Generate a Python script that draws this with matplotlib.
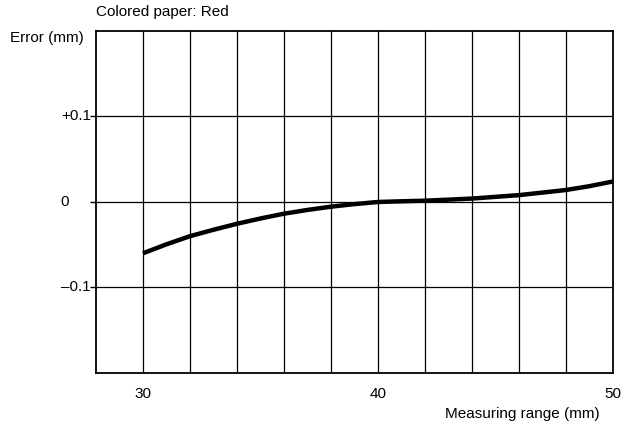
import matplotlib
matplotlib.use("Agg")
import matplotlib.pyplot as plt
import matplotlib.transforms as mtransforms

plt.rcParams['font.family'] = ['Liberation Sans', 'DejaVu Sans']

range_mm = [30, 31, 32, 33, 34, 35, 36, 37, 38, 39, 40,
            41, 42, 43, 44, 45, 46, 47, 48, 49, 50]
error_mm = [-0.060, -0.0495, -0.040, -0.0325, -0.0255, -0.0193, -0.0137, -0.0093, -0.0055, -0.0025, 0.0,
            0.0008, 0.0015, 0.0027, 0.004, 0.006, 0.008, 0.011, 0.014, 0.0185, 0.024]

x_ticks = [30, 40, 50]
x_tick_labels = ["30", "40", "50"]
y_ticks = [0.1, 0.0, -0.1]
y_tick_labels = ["+0.1", "0", "\u20130.1"]

fig = plt.figure(figsize=(6.21, 4.30), dpi=100)
ax = fig.add_axes([0.1546, 0.1326, 0.8325, 0.7954])

ax.set_xlim(28, 50)
ax.set_ylim(-0.2, 0.2)

# vertical grid every 2 mm, horizontal grid at the labelled levels
for gx in range(30, 50, 2):
    ax.axvline(gx, color="black", lw=0.9, zorder=1)
for gy in y_ticks:
    ax.axhline(gy, color="black", lw=0.9, zorder=1)

ax.plot(range_mm, error_mm, color="black", lw=3.2, solid_capstyle="butt", zorder=3)

for s in ax.spines.values():
    s.set_linewidth(1.3)

ax.set_xticks(x_ticks)
ax.set_xticklabels(x_tick_labels, fontsize=11)
ax.tick_params(axis="x", length=0, pad=10)

ax.set_yticks(y_ticks)
ax.set_yticklabels([""] * len(y_ticks))
ax.tick_params(axis="y", length=4, width=1.0, direction="out")

# y labels placed by hand, the "0" sits further left like in the original
trans = mtransforms.blended_transform_factory(fig.transFigure, ax.transData)
for v, lab in zip(y_ticks, y_tick_labels):
    if lab == "0":
        ax.text(65 / 621, v, lab, transform=trans, ha="center", va="center", fontsize=11)
    else:
        ax.text(91 / 621, v, lab, transform=trans, ha="right", va="center", fontsize=11)

fig.text(96 / 621, 1 - 12 / 430, "Colored paper: Red", ha="left", va="center", fontsize=11)
fig.text(84 / 621, 1 - 38 / 430, "Error (mm)", ha="right", va="center", fontsize=11)
fig.text(600 / 621, 1 - 414 / 430, "Measuring range (mm)", ha="right", va="center", fontsize=11)

fig.savefig("out.png", dpi=100)
